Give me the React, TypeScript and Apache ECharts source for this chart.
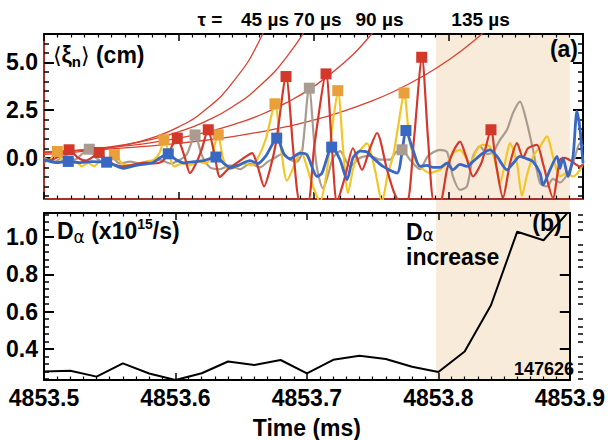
import React, { useEffect, useRef } from "react";
import * as echarts from "echarts";

// ---- axes ----
const T0_MS = 4853.5; // time offsets below are in µs after this
const X_MIN = 4853.5;
const X_MAX = 4853.9;
const X_STEP = 0.1;
const SHADE_START_US = 291;

const XI_MIN = -2.16;
const XI_MAX = 6.49;
const XI_TICK_LABELS = [0, 2.5, 5];
const XI_MINOR_STEP = 0.5;

const DA_MIN = 0.234;
const DA_MAX = 1.128;
const DA_TICK_LABELS = [0.4, 0.6, 0.8, 1.0];
const DA_MINOR_STEP = 0.04;

const TAU_LABELS = ["45 µs", "70 µs", "90 µs", "135 µs"];
const TAU_LABEL_US = [164, 203, 249, 324];

// ---- growth curves ----
const tau45T = [0, 20, 40, 60, 80, 100, 120, 140, 160, 180];
const tau45V = [0.18, 0.27, 0.43, 0.67, 1.04, 1.62, 2.53, 3.95, 6.16, 9.61];
const tau70T = [0, 20, 40, 60, 80, 100, 120, 140, 160, 180, 200];
const tau70V = [0.25, 0.35, 0.49, 0.69, 0.97, 1.36, 1.91, 2.68, 3.76, 5.28, 7.41];
const tau90T = [0, 20, 40, 60, 80, 100, 120, 140, 160, 180, 200, 220, 240, 260];
const tau90V = [0.29, 0.37, 0.48, 0.62, 0.8, 1.03, 1.34, 1.73, 2.23, 2.89, 3.73, 4.82, 6.23, 8.05];
const tau135T = [0, 20, 40, 60, 80, 100, 120, 140, 160, 180, 200, 220, 240, 260, 280, 300, 320, 340];
const tau135V = [0.29, 0.36, 0.43, 0.52, 0.63, 0.76, 0.92, 1.11, 1.35, 1.63, 1.97, 2.39, 2.89, 3.49, 4.23, 5.11, 6.19, 7.49];

// ---- displacement signals ----
const redT = [0, 5.9, 11.9, 18.6, 25.2, 31.2, 36.4, 40.8, 46, 51.9, 57.9, 63.8, 69.8, 75.7, 81.6, 87.6, 92, 98.7, 104.6, 108.3, 112.8, 117.3, 121.7, 126.2, 130.6, 136.5, 142.5, 148.4, 154.4, 158.8, 163.3, 167.7, 172.2, 179.6, 185.5, 190, 195.9, 200.4, 209.3, 213.7, 217.4, 223.4, 229.3, 236, 241.9, 247.1, 254.5, 259.7, 264.2, 269.4, 274.6, 280.5, 285, 289.4, 293.9, 299.1, 303.5, 308.7, 313.2, 318.4, 325, 331.7, 335.4, 340.6, 345.8, 351, 355.5, 359.2, 365.8, 370.3, 377.7, 382.9, 386.6, 391.8, 397.8, 400];
const redV = [-0.2, -0.1, 0.1, 0.42, 0, -0.15, 0.05, 0.28, -0.1, -0.35, -0.45, -0.4, -0.3, -0.25, -0.3, -0.2, 0.2, 1.03, 0, -0.8, -0.3, 0.5, 1.47, 0.3, -1.0, -0.6, -0.3, 0, 0.25, -0.5, -1.5, -0.6, 0.8, 4.26, 0, -2.3, -2.3, 0.5, 4.4, 0.5, -2.3, -1.0, 0.5, -0.63, 0.5, 1.3, -0.6, -1.8, -2.3, -2.3, 1.0, 5.27, 1.0, -2.3, -2.3, -0.6, 0.3, 0.85, 0.07, -0.98, -0.2, 1.47, -0.3, -2.1, -0.3, 0.77, 0, 0.5, 0.68, -0.3, -2.1, -0.1, 0, -0.2, -0.45, -0.35];

const grayT = [0, 8.2, 15.6, 23, 28.2, 33.4, 38.6, 44.5, 50.5, 56.4, 63.8, 71.2, 78.7, 86.1, 93.5, 100.9, 106.1, 112.1, 117.3, 123.2, 130.6, 138, 145.5, 152.9, 160.3, 166.2, 171.4, 176.6, 182.6, 187.8, 191.5, 196.7, 201.1, 203.3, 207, 210.8, 214.5, 219.7, 227.1, 234.5, 241.9, 249.3, 256.8, 261.2, 265.7, 271.6, 279, 285, 293.9, 299.1, 303.5, 308.7, 313.9, 318.4, 323.6, 328.8, 333.2, 338.4, 343.6, 348, 353.2, 358.4, 362.9, 368.1, 373.3, 377.7, 382.9, 388.1, 392.6, 397.8, 400];
const grayV = [0, -0.2, 0.1, -0.1, 0.2, 0.45, 0, -0.2, 0, -0.3, -0.2, -0.3, -0.25, -0.1, -0.3, -0.1, 0.2, 1.2, 0.1, -0.5, -0.6, -0.4, -0.6, -0.3, -0.5, -0.2, 0, 0.2, -0.1, -0.2, 0.3, 3.7, 0.3, -0.8, -1.6, -0.9, 0, 0.35, -0.45, 0, 0.1, -0.1, -0.1, 0.3, 0.42, -0.1, -0.6, 0.1, 0.42, 0.3, -0.98, -1.68, -1.5, 0.07, 0.6, 0.2, 0.3, 0.94, 1.47, 2.34, 2.95, 1.82, 0.42, -1.33, -1.5, -1.1, -1.3, -0.9, -0.28, 0.77, 0.6];

const yellowT = [0, 4.5, 9.6, 14.1, 19.3, 23.7, 28.2, 32.7, 37.1, 41.6, 46, 52.7, 57.9, 63.8, 69.8, 75.7, 81.6, 86.1, 89, 93.5, 96.5, 102.4, 108.3, 114.3, 120.2, 124.7, 129.1, 132.8, 136.5, 142.5, 148.4, 154.4, 158.8, 164.7, 171.4, 175.9, 180.3, 186.3, 190.7, 195.2, 199.6, 204.8, 209.3, 213.7, 218.2, 221.9, 225.6, 229.3, 233, 239.7, 245.6, 250.8, 255.3, 259, 262.7, 267.2, 271.6, 276.1, 281.3, 286.5, 290.9, 293.9, 299.1, 303.5, 308.7, 316.1, 321.3, 325.8, 331, 336.2, 338.4, 343.6, 345.8, 351, 354.7, 358.4, 362.9, 368.1, 373.3, 377.7, 382.9, 388.1, 392.6, 397.8, 400];
const yellowV = [-0.2, -0.1, 0.33, -0.2, -0.4, -0.2, -0.45, -0.25, -0.45, -0.2, -0.3, 0.16, -0.3, -0.4, -0.3, -0.2, -0.1, 0.3, 0.94, 0, -0.45, -0.3, -0.4, -0.2, -0.3, 0.2, 1.2, 0, -0.6, -0.5, -0.3, -0.4, 0, 1.0, 2.83, 0.5, -1.2, -0.3, 0.35, -0.5, -1.5, -2.3, -1.0, 1.5, 3.52, 0.5, -1.85, -0.6, 0.24, 0.76, -0.63, -2.3, -0.8, 0.07, 1.6, 3.4, 0.76, -0.2, -0.6, -0.8, -0.7, -0.63, -0.28, 0.24, 0.42, -0.28, 0.42, 0.68, 0.59, -0.63, -1.33, 0.24, 0.77, -0.28, -2.0, -0.9, 0.07, 0.59, 1.12, 0.07, -0.98, -0.8, -0.98, -0.63, -0.28];

const blueT = [0, 8.9, 17.8, 26.7, 35.6, 46.8, 52.7, 58.6, 65.3, 72.7, 80.1, 86.1, 92, 98, 103.9, 111.3, 118.7, 127.6, 133.6, 138.8, 145.5, 152.9, 158.8, 164.7, 172.9, 178.1, 182.6, 190, 195.2, 202.6, 206.3, 213.7, 219.7, 224.9, 229.3, 234.5, 239.7, 244.1, 251.6, 262, 265.7, 268.6, 273.8, 279, 284.2, 288.7, 293.9, 299.1, 303.5, 308.7, 313.9, 318.4, 325.8, 331, 336.2, 343.6, 348, 353.2, 358.4, 362.9, 368.1, 370.3, 375.5, 380.7, 382.9, 385.1, 388.9, 392.6, 395.5, 397.8, 400];
const blueV = [-0.1, -0.25, -0.19, -0.25, -0.2, -0.23, -0.4, -0.55, -0.45, -0.35, -0.27, 0, 0.21, -0.1, -0.27, -0.2, -0.15, 0.04, -0.3, -0.53, -0.35, -0.15, -0.3, 0.1, 1.03, 0.2, -0.05, 0.24, 0.15, -0.98, -0.8, 0.59, -0.1, -1.15, 0, 0.35, 0.3, 0, -0.45, -0.8, 0.3, 1.43, 0.42, -0.45, -0.4, -0.5, -0.5, -0.28, -0.63, -0.35, -0.45, -0.19, 0.24, 0.42, 0.07, -0.63, -0.3, 0.07, -0.05, -0.2, -0.8, -1.42, -0.63, 0.07, -0.55, 0, -0.98, 0.07, 2.44, 1.47, -0.28];

// ---- square markers ----
const redMarkT = [18.6, 41, 98.9, 121.9, 179.6, 209.3, 280.3, 331.7];
const redMarkV = [0.42, 0.28, 1.03, 1.47, 4.26, 4.4, 5.27, 1.47];
const grayMarkT = [33.6, 112.1, 196.9, 265.7];
const grayMarkV = [0.45, 1.2, 3.65, 0.42];
const orangeMarkT = [9.9, 52.2, 89, 129.3, 171.4, 218, 267.2];
const orangeMarkV = [0.33, 0.16, 0.94, 1.2, 2.83, 3.52, 3.4];
const blueMarkT = [18, 46.5, 92.2, 127.6, 172.7, 213.5, 268.6];
const blueMarkV = [-0.19, -0.23, 0.21, 0.04, 1.03, 0.56, 1.43];

// ---- D-alpha ----
const daT = [0, 20, 40, 60, 80, 100, 120, 140, 160, 180, 200, 220, 240, 260, 280, 300, 320, 340, 360, 380, 400];
const daV = [0.28, 0.283, 0.252, 0.323, 0.269, 0.234, 0.27, 0.333, 0.314, 0.341, 0.269, 0.342, 0.364, 0.346, 0.305, 0.277, 0.387, 0.634, 1.028, 0.982, 1.143];

const FONT = "'Liberation Sans Narrow','Arial Narrow','Liberation Sans',Arial,sans-serif";
const C_RED = "#d4382a";
const C_CURVE = "#d9412f";
const C_GRAY = "#a99b90";
const C_YELLOW = "#f2c626";
const C_ORANGE = "#e9a03a";
const C_BLUE = "#3868c2";
const C_SHADE = "#f9ebd9";
const C_FRAME_RED = "#a8302a";

const toXY = (ts: number[], vs: number[]) => ts.map((u, i) => [T0_MS + u / 1000, vs[i]]);

function minorList(min: number, max: number, step: number, majors: number[]) {
  const out: number[] = [];
  const k0 = Math.ceil(min / step - 1e-9);
  const k1 = Math.floor(max / step + 1e-9);
  for (let k = k0; k <= k1; k++) {
    const v = Math.round(k * step * 1000) / 1000;
    if (!majors.some((m) => Math.abs(m - v) < 1e-6)) out.push(v);
  }
  return out;
}

const GRID_TOP = { left: 44, top: 34, width: 539, height: 165 };
const GRID_BOT = { left: 44, top: 213, width: 539, height: 167 };

function buildOption() {
  const xiMinor = minorList(XI_MIN, XI_MAX, XI_MINOR_STEP, XI_TICK_LABELS);
  const daMinor = minorList(DA_MIN, DA_MAX, DA_MINOR_STEP, DA_TICK_LABELS);

  const xBase = (gridIndex: number, position: string, lineColor: string) => ({
    type: "value",
    gridIndex,
    position,
    min: X_MIN,
    max: X_MAX,
    interval: X_STEP,
    axisLine: { show: true, onZero: false, lineStyle: { color: lineColor, width: 2 } },
    axisTick: { show: true, inside: true, length: 7, lineStyle: { color: "#000", width: 1.5 } },
    minorTick: { show: true, splitNumber: 10, length: 3.5, lineStyle: { color: "#000", width: 1.2 } },
    axisLabel: { show: false },
    splitLine: { show: false },
  });

  const yMajor = (gridIndex: number, position: string, min: number, max: number, majors: number[], lineColor: string, labels: boolean) => ({
    type: "value",
    gridIndex,
    position,
    min,
    max,
    axisLine: { show: true, onZero: false, lineStyle: { color: lineColor, width: 2 } },
    axisTick: { show: true, inside: true, length: 10, customValues: majors, lineStyle: { color: "#000", width: 2 } },
    axisLabel: {
      show: labels,
      customValues: majors,
      formatter: (v: number) => v.toFixed(1),
      fontFamily: FONT,
      fontWeight: "bold",
      fontSize: 23,
      color: "#000",
      margin: 6,
    },
    splitLine: { show: false },
  });

  const yMinor = (gridIndex: number, position: string, min: number, max: number, minors: number[]) => ({
    type: "value",
    gridIndex,
    position,
    min,
    max,
    axisLine: { show: false, onZero: false },
    axisTick: { show: true, inside: true, length: 5, customValues: minors, lineStyle: { color: "#000", width: 1.5 } },
    axisLabel: { show: false },
    splitLine: { show: false },
  });

  const xBottomLabelled = {
    ...xBase(1, "bottom", "#000"),
    axisLabel: {
      show: true,
      fontFamily: FONT,
      fontWeight: "bold",
      fontSize: 23,
      color: "#000",
      margin: 6,
      formatter: (v: number) => v.toFixed(1),
    },
    name: "Time (ms)",
    nameLocation: "middle",
    nameGap: 36,
    nameTextStyle: { fontFamily: FONT, fontWeight: "bold", fontSize: 23, color: "#000" },
  };

  const line = (ts: number[], vs: number[], color: string, width: number, xi = 0, yi = 0, smooth: number | boolean = 0.25) => ({
    type: "line",
    xAxisIndex: xi,
    yAxisIndex: yi,
    data: toXY(ts, vs),
    showSymbol: false,
    smooth,
    silent: true,
    lineStyle: { color, width },
  });

  const marks = (ts: number[], vs: number[], color: string) => ({
    type: "scatter",
    xAxisIndex: 0,
    yAxisIndex: 0,
    data: toXY(ts, vs),
    symbol: "rect",
    symbolSize: 11,
    silent: true,
    itemStyle: { color, opacity: 1 },
    z: 5,
  });

  return {
    animation: false,
    backgroundColor: "#fff",
    grid: [GRID_TOP, GRID_BOT, GRID_TOP, GRID_BOT].map((g) => ({ ...g, containLabel: false })),
    xAxis: [
      xBase(0, "bottom", C_FRAME_RED),
      xBase(0, "top", "#000"),
      xBottomLabelled,
      xBase(1, "top", "#000"),
      { type: "value", gridIndex: 2, min: X_MIN, max: X_MAX, show: false },
      { type: "value", gridIndex: 3, min: X_MIN, max: X_MAX, show: false },
    ],
    yAxis: [
      yMajor(0, "left", XI_MIN, XI_MAX, XI_TICK_LABELS, C_FRAME_RED, true),
      yMajor(0, "right", XI_MIN, XI_MAX, XI_TICK_LABELS, "#000", false),
      yMajor(1, "left", DA_MIN, DA_MAX, DA_TICK_LABELS, "#000", true),
      yMajor(1, "right", DA_MIN, DA_MAX, DA_TICK_LABELS, "#000", false),
      yMinor(2, "left", XI_MIN, XI_MAX, xiMinor),
      yMinor(2, "right", XI_MIN, XI_MAX, xiMinor),
      yMinor(3, "left", DA_MIN, DA_MAX, daMinor),
      yMinor(3, "right", DA_MIN, DA_MAX, daMinor),
    ],
    series: [
      line(tau45T, tau45V, C_CURVE, 1.3, 0, 0, true),
      line(tau70T, tau70V, C_CURVE, 1.3, 0, 0, true),
      line(tau90T, tau90V, C_CURVE, 1.3, 0, 0, true),
      line(tau135T, tau135V, C_CURVE, 1.3, 0, 0, true),
      line(grayT, grayV, C_GRAY, 2.2),
      line(yellowT, yellowV, C_YELLOW, 2.2),
      line(redT, redV, C_RED, 2.2),
      line(blueT, blueV, C_BLUE, 2.8),
      marks(grayMarkT, grayMarkV, C_GRAY),
      marks(orangeMarkT, orangeMarkV, C_ORANGE),
      marks(redMarkT, redMarkV, C_RED),
      marks(blueMarkT, blueMarkV, C_BLUE),
      line(daT, daV, "#000", 2, 2, 2, false),
    ],
  };
}

function buildGraphic(chart: echarts.ECharts) {
  const shadeT = T0_MS + SHADE_START_US / 1000;
  const p0 = chart.convertToPixel({ gridIndex: 0 }, [shadeT, XI_MAX]) as number[];
  const p1 = chart.convertToPixel({ gridIndex: 1 }, [X_MAX, DA_MIN]) as number[];
  const labelX = TAU_LABEL_US.map((u) => chart.convertToPixel({ xAxisIndex: 0 }, T0_MS + u / 1000) as number);
  const bold = (size: number) => ({ fontFamily: FONT, fontWeight: "bold", fontSize: size, fill: "#000" });
  const txt = (text: string, x: number, y: number, size: number, align = "left", vAlign = "middle") => ({
    type: "text",
    silent: true,
    z: 10,
    style: { text, x, y, align, verticalAlign: vAlign, ...bold(size) },
  });
  const tauTexts = TAU_LABELS.map((t, i) => txt(t, labelX[i], 19, 19, "center"));
  return [
    {
      type: "rect",
      silent: true,
      z: -1,
      shape: { x: p0[0], y: p0[1], width: p1[0] - p0[0], height: p1[1] - p0[1] },
      style: { fill: C_SHADE },
    },
    txt("τ =", 210, 19, 19, "center"),
    ...tauTexts,
    {
      type: "text",
      silent: true,
      z: 10,
      style: {
        x: 53,
        y: 55,
        verticalAlign: "middle",
        text: "{br|⟨}{b|ξ}{sub|n}{br|⟩}{b| (cm)}",
        rich: {
          br: { fontFamily: "DejaVu Sans", fontSize: 22, fontWeight: "normal", fill: "#000", lineHeight: 28 },
          b: { ...bold(23), lineHeight: 28 },
          sub: { ...bold(15), lineHeight: 16, verticalAlign: "bottom" },
        },
      },
    },
    txt("(a)", 578, 49, 23, "right"),
    {
      type: "text",
      silent: true,
      z: 10,
      style: {
        x: 57,
        y: 231,
        verticalAlign: "middle",
        text: "{b|D}{g|α}{b| (x10}{sup|15}{b|/s)}",
        rich: {
          b: { ...bold(23), lineHeight: 28 },
          g: { fontFamily: "DejaVu Sans", fontSize: 17, fontWeight: "normal", fill: "#000", lineHeight: 20, verticalAlign: "bottom" },
          sup: { ...bold(14), lineHeight: 16, verticalAlign: "top" },
        },
      },
    },
    {
      type: "text",
      silent: true,
      z: 10,
      style: {
        x: 406,
        y: 232,
        verticalAlign: "middle",
        text: "{b|D}{g|α}",
        rich: {
          b: { ...bold(23), lineHeight: 22 },
          g: { fontFamily: "DejaVu Sans", fontSize: 17, fontWeight: "normal", fill: "#000", lineHeight: 18, verticalAlign: "bottom" },
        },
      },
    },
    txt("increase", 406, 257, 23),
    txt("(b)", 547, 223, 23, "center"),
    txt("147626", 574, 369, 18, "right"),
  ];
}

export default function App() {
  const ref = useRef<HTMLDivElement>(null);
  useEffect(() => {
    if (!ref.current) return;
    const chart = echarts.init(ref.current, null, { renderer: "svg" });
    chart.setOption(buildOption() as any);
    chart.setOption({ graphic: buildGraphic(chart) } as any);
    return () => chart.dispose();
  }, []);
  return (
    <div
      ref={ref}
      style={{ position: "fixed", left: 0, top: 0, width: 608, height: 440, background: "#fff" }}
    />
  );
}
